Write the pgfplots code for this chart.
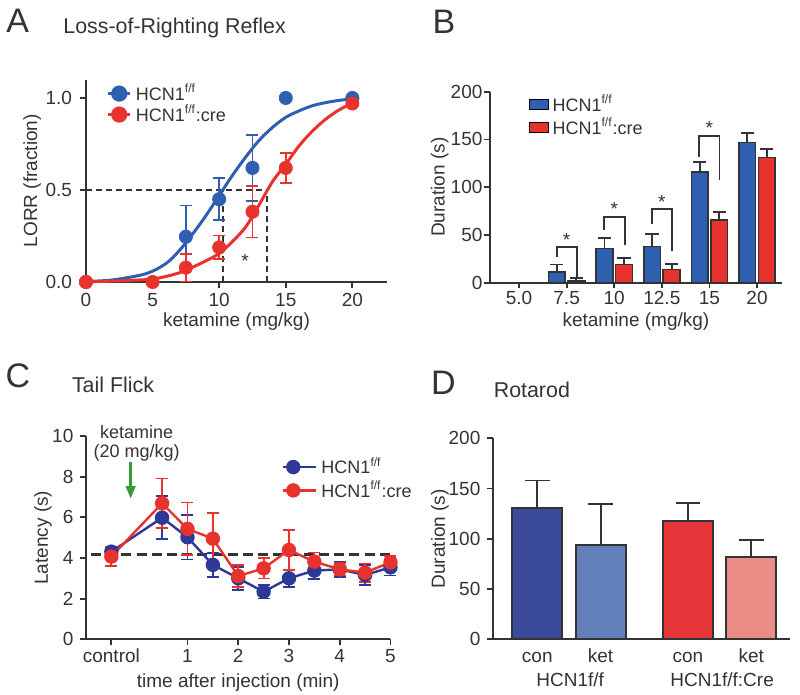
\documentclass[border=0pt]{standalone}
\usepackage{pgfplots}
\pgfplotsset{compat=1.18}
\usepackage{fontspec}
\setmainfont{Liberation Sans}
\usetikzlibrary{arrows.meta}

\definecolor{txt}{HTML}{333333}
\definecolor{ablue}{HTML}{2F5FB0}
\definecolor{ared}{HTML}{E8322E}
\definecolor{cblue}{HTML}{2E3896}
\definecolor{dblue1}{HTML}{3B4A9A}
\definecolor{dblue2}{HTML}{6480BB}
\definecolor{dred1}{HTML}{E53538}
\definecolor{dred2}{HTML}{EC8C86}
\definecolor{kgreen}{HTML}{3A9A3A}

\newcommand{\fs}{\fontsize{9.5}{11}\selectfont}
\newcommand{\lfs}{\fontsize{9}{10}\selectfont}
\newcommand{\tfs}{\fontsize{10.7}{12}\selectfont}
\newcommand{\pfs}{\fontsize{17}{20}\selectfont}

\pgfplotsset{
  panel/.style={
    scale only axis,
    axis x line*=bottom, axis y line*=left,
    axis line style={line width=0.9pt, draw=txt, -},
    tick style={line width=0.9pt, draw=txt},
    tick align=outside,
    major tick length=2.8pt,
    ticklabel style={font=\fs, text=txt},
    xticklabel style={inner sep=1.5pt},
    label style={font=\fs, text=txt},
    clip=false,
    legend cell align=left,
  },
  ebars/.style={error bars/.cd, y dir=both, y explicit,
    error bar style={line width=0.9pt, #1},
    error mark options={rotate=90, mark size=3pt, line width=0.9pt, #1}, /pgfplots/.cd},
  upbars/.style={error bars/.cd, y dir=plus, y explicit,
    error bar style={line width=0.9pt, txt},
    error mark options={rotate=90, mark size=#1, line width=0.9pt, txt}, /pgfplots/.cd},
}

\begin{document}
\begin{tikzpicture}
\path[use as bounding box] (0,0) rectangle (400pt,347.5pt);

% ---------- A ----------
\node[font=\pfs, text=txt] at (8.8pt,337.2pt) {A};
\node[font=\tfs, text=txt, anchor=west, inner sep=0pt] at (31.5pt,333.5pt) {Loss-of-Righting Reflex};
\begin{axis}[panel, at={(43pt,206.5pt)}, anchor=south west,
  width=150.5pt, height=101.2pt,
  xmin=0, xmax=22.6, ymin=0, ymax=1.1,
  xtick={0,5,10,15,20}, xticklabels={0,5,10,15,20},
  xticklabel style={inner sep=2.5pt},
  ytick={0,0.5,1}, yticklabels={0.0,0.5,1.0},
  yticklabel style={inner sep=4pt},
  xlabel={ketamine (mg/kg)}, ylabel={LORR (fraction)},
  xlabel style={at={(axis description cs:0.5,-0.198)}, anchor=center},
  ylabel style={at={(axis description cs:-0.179,0.5)}, anchor=center},
  legend style={at={(axis description cs:0.047,1.02)}, anchor=north west,
    draw=none, fill=none, font=\lfs, text=txt, row sep=-3.2pt},
  legend image code/.code={\draw[#1, mark repeat=2, mark phase=2] plot coordinates {(0pt,0pt) (5.6pt,0pt) (11.2pt,0pt)};},
]
\addplot[txt, line width=0.8pt, dash pattern=on 3pt off 2pt, forget plot] coordinates {(0,0.5) (13.6,0.5)};
\addplot[txt, line width=0.8pt, dash pattern=on 3pt off 2pt, forget plot] coordinates {(10.3,0) (10.3,0.5)};
\addplot[txt, line width=0.8pt, dash pattern=on 3pt off 2pt, forget plot] coordinates {(13.6,0) (13.6,0.5)};
% fitted curves
\addplot[ablue, line width=1.5pt, smooth, forget plot] coordinates {
 (0,0.003) (2,0.011) (4.5,0.045) (6,0.10) (7,0.17) (8,0.26) (9,0.36) (10,0.47)
 (11,0.58) (12,0.68) (13,0.77) (14,0.84) (15,0.895) (16,0.93) (17,0.958)
 (18,0.975) (19,0.987) (20,0.995)};
\addplot[ared, line width=1.5pt, smooth, forget plot] coordinates {
 (0,0.001) (2,0.005) (4,0.011) (5,0.016) (6,0.03) (7,0.05) (8,0.08) (9,0.115)
 (10,0.155) (11,0.22) (12,0.3) (13,0.42) (14,0.545) (15,0.64) (16,0.74)
 (17,0.82) (18,0.885) (19,0.935) (20,0.972)};
% data
\addplot[forget plot, only marks, mark=*, mark size=3.3pt, ablue, mark options={fill=ablue}, ebars=ablue]
 coordinates {(0,0) +- (0,0) (7.5,0.246) +- (0,0.17) (10,0.45) +- (0,0.115)
 (12.5,0.62) +- (0,0.18) (15,1.0) +- (0,0) (20,1.0) +- (0,0)};
\addplot[forget plot, only marks, mark=*, mark size=3.3pt, ared, mark options={fill=ared}, ebars=ared]
 coordinates {(0,0) +- (0,0) (5,0) +- (0,0) (7.5,0.078) +- (0,0.075) (10,0.188) +- (0,0.065)
 (12.5,0.382) +- (0,0.14) (15,0.62) +- (0,0.08) (20,0.97) +- (0,0)};
\node[font=\fs, text=txt] at (axis cs:11.95,0.115) {*};
\addlegendimage{ablue, line width=1.5pt, mark=*, mark size=3.3pt, mark options={fill=ablue}}
\addlegendentry{HCN1\textsuperscript{f/f}}
\addlegendimage{ared, line width=1.5pt, mark=*, mark size=3.3pt, mark options={fill=ared}}
\addlegendentry{HCN1\textsuperscript{f/f}:cre}
\end{axis}

% ---------- B ----------
\node[font=\pfs, text=txt] at (222pt,336.5pt) {B};
\begin{axis}[panel, at={(245pt,206.15pt)}, anchor=south west,
  width=145.9pt, height=95.5pt,
  xmin=-0.61, xmax=5.52, ymin=0, ymax=200,
  xtick={0,1,2,3,4,5}, xticklabels={5.0,7.5,10,12.5,15,20},
  ytick={0,50,100,150,200}, yticklabels={0,50,100,150,200},
  yticklabel style={inner sep=0.8pt},
  xlabel={ketamine (mg/kg)}, ylabel={Duration (s)},
  xlabel style={at={(axis description cs:0.5,-0.206)}, anchor=center},
  ylabel style={at={(axis description cs:-0.172,0.5)}, anchor=center},
  legend style={at={(axis description cs:0.113,1.027)}, anchor=north west,
    draw=none, fill=none, font=\lfs, text=txt, row sep=-2.3pt},
  legend image code/.code={\fill[#1] (0pt,-2.5pt) rectangle (9.2pt,2.5pt);},
]
\addplot[forget plot, ybar, bar width=0.35, bar shift=0pt, fill=ablue, draw=txt, line width=0.8pt, upbars=3.3pt]
 coordinates {(-0.205,0) +- (0,0) (0.795,11.5) +- (0,7.5) (1.795,36) +- (0,10.8)
 (2.795,37.7) +- (0,13.3) (3.795,116) +- (0,10) (4.795,147) +- (0,10)};
\addplot[forget plot, ybar, bar width=0.35, bar shift=0pt, fill=ared, draw=txt, line width=0.8pt, upbars=3.3pt]
 coordinates {(0.205,0) +- (0,0) (1.205,2) +- (0,2.5) (2.205,19) +- (0,6.5)
 (3.205,14) +- (0,5.5) (4.205,65.6) +- (0,8.4) (5.205,131) +- (0,9)};
% significance brackets
\addplot[txt, line width=0.9pt, forget plot] coordinates {(0.79,27) (0.79,37) (1.22,37) (1.22,6.3)};
\addplot[txt, line width=0.9pt, forget plot] coordinates {(1.79,55) (1.79,69) (2.23,69) (2.23,39.4)};
\addplot[txt, line width=0.9pt, forget plot] coordinates {(2.79,61.4) (2.79,77) (3.21,77) (3.21,33.5)};
\addplot[txt, line width=0.9pt, forget plot] coordinates {(3.78,132) (3.78,154) (4.21,154) (4.21,107.5)};
\node[font=\fs, text=txt] at (axis cs:1,45) {*};
\node[font=\fs, text=txt] at (axis cs:2,77) {*};
\node[font=\fs, text=txt] at (axis cs:3,85) {*};
\node[font=\fs, text=txt] at (axis cs:4,162) {*};
\addlegendimage{fill=ablue}
\addlegendentry{HCN1\textsuperscript{f/f}}
\addlegendimage{fill=ared}
\addlegendentry{HCN1\textsuperscript{f/f}:cre}
\end{axis}

% ---------- C ----------
\node[font=\pfs, text=txt] at (9pt,159.5pt) {C};
\node[font=\tfs, text=txt, anchor=west, inner sep=0pt] at (35.8pt,155pt) {Tail Flick};
\begin{axis}[panel, at={(43pt,27.85pt)}, anchor=south west,
  width=152.25pt, height=101.65pt,
  xmin=-1, xmax=5, ymin=0, ymax=10,
  xtick={-0.5,1,2,3,4,5}, xticklabels={control,1,2,3,4,5},
  xticklabel style={text height=7pt},
  ytick={0,2,4,6,8,10}, yticklabels={0,2,4,6,8,10},
  xlabel={time after injection (min)}, ylabel={Latency (s)},
  xlabel style={at={(axis description cs:0.5,-0.215)}, anchor=center},
  ylabel style={at={(axis description cs:-0.141,0.5)}, anchor=center},
  legend style={at={(axis description cs:0.623,0.936)}, anchor=north west,
    draw=none, fill=none, font=\lfs, text=txt, row sep=-2pt},
  legend image code/.code={\draw[#1, mark repeat=2, mark phase=2] plot coordinates {(0pt,0pt) (5pt,0pt) (10pt,0pt)}; \path (0pt,0pt) -- (16.5pt,0pt);},
]
\addplot[txt, line width=1.5pt, dash pattern=on 5pt off 2.6pt, forget plot] coordinates {(-0.9,4.15) (5.05,4.15)};
\addplot[forget plot, cblue, line width=1.2pt, mark=*, mark size=3pt, mark options={fill=cblue}, ebars=cblue]
 coordinates {(-0.5,4.31) +- (0,0.21) (0.5,5.98) +- (0,1.05) (1,5.02) +- (0,1.1)
 (1.5,3.66) +- (0,0.6) (2,3.0) +- (0,0.57) (2.5,2.34) +- (0,0.33) (3,3.0) +- (0,0.43)
 (3.5,3.38) +- (0,0.4) (4,3.44) +- (0,0.38) (4.5,3.16) +- (0,0.5) (5,3.54) +- (0,0.4)};
\addplot[forget plot, ared, line width=1.2pt, mark=*, mark size=3pt, mark options={fill=ared}, ebars=ared]
 coordinates {(-0.5,4.07) +- (0,0.45) (0.5,6.69) +- (0,1.22) (1,5.43) +- (0,1.3)
 (1.5,4.95) +- (0,1.25) (2,3.11) +- (0,0.55) (2.5,3.49) +- (0,0.5) (3,4.39) +- (0,1.0)
 (3.5,3.82) +- (0,0.45) (4,3.44) +- (0,0.3) (4.5,3.28) +- (0,0.45) (5,3.79) +- (0,0.3)};
\addplot[kgreen, line width=1.8pt, -{Triangle[length=6.5pt,width=4.6pt]}, forget plot]
 coordinates {(-0.12,8.7) (-0.12,6.9)};
\node[font=\lfs, text=txt] at (axis cs:0,10.18) {ketamine};
\node[font=\lfs, text=txt] at (axis cs:0,9.18) {(20 mg/kg)};
\addlegendimage{cblue, line width=1.2pt, mark=*, mark size=3pt, mark options={fill=cblue}}
\addlegendentry{HCN1\textsuperscript{f/f}}
\addlegendimage{ared, line width=1.2pt, mark=*, mark size=3pt, mark options={fill=ared}}
\addlegendentry{HCN1\textsuperscript{f/f}:cre}
\end{axis}

% ---------- D ----------
\node[font=\pfs, text=txt] at (221.7pt,156.2pt) {D};
\node[font=\tfs, text=txt, anchor=west, inner sep=0pt] at (246.7pt,152.8pt) {Rotarod};
\begin{axis}[panel, at={(246.5pt,27.85pt)}, anchor=south west,
  width=148.75pt, height=100.5pt,
  xmin=-0.70, xmax=4.0, ymin=0, ymax=200,
  xtick={0,1,2.38,3.38}, xticklabels={con,ket,con,ket},
  xticklabel style={text height=7pt, text depth=0pt},
  xtick style={draw=none},
  ytick={0,50,100,150,200}, yticklabels={0,50,100,150,200},
  ylabel={Duration (s)},
  ylabel style={at={(axis description cs:-0.178,0.5)}, anchor=center},
]
\addplot[ybar, bar width=0.79, bar shift=0pt, fill=dblue1, draw=txt, line width=0.9pt, upbars=6.2pt]
 coordinates {(0,131) +- (0,27)};
\addplot[ybar, bar width=0.79, bar shift=0pt, fill=dblue2, draw=txt, line width=0.9pt, upbars=6.2pt]
 coordinates {(1,94) +- (0,41)};
\addplot[ybar, bar width=0.79, bar shift=0pt, fill=dred1, draw=txt, line width=0.9pt, upbars=6.2pt]
 coordinates {(2.38,118) +- (0,18)};
\addplot[ybar, bar width=0.79, bar shift=0pt, fill=dred2, draw=txt, line width=0.9pt, upbars=6.2pt]
 coordinates {(3.38,81.6) +- (0,17.2)};
\node[font=\fs, text=txt] at (axis cs:0.52,-40) {HCN1f/f};
\node[font=\fs, text=txt] at (axis cs:2.92,-40) {HCN1f/f:Cre};
\end{axis}
\end{tikzpicture}
\end{document}
